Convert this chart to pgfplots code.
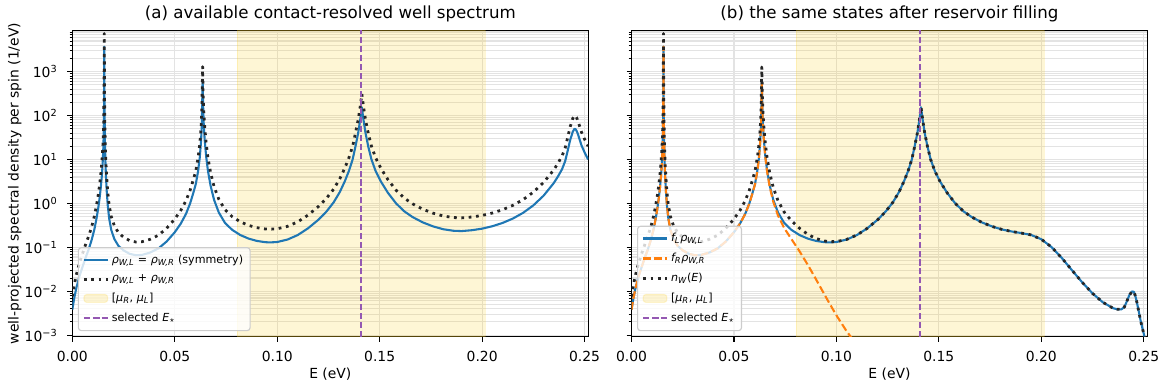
\documentclass[border=0pt]{standalone}
\usepackage{fontspec}
\setmainfont{DejaVu Sans}
\usepackage{pgfplots}
\usepackage{pgfplotstable}
\pgfplotsset{compat=1.18}

\definecolor{cblue}{HTML}{1F77B4}
\definecolor{corange}{HTML}{FF7F0E}
\definecolor{cpurple}{RGB}{148,88,178}
\definecolor{bandgold}{RGB}{250,205,30}

% well-projected spectral density rho_{W,L} (= rho_{W,R}) and the sum rho_{W,L}+rho_{W,R}
\pgfplotstableread{
E rho two
0.0000 0.0038 0.0076
0.0010 0.0072 0.0144
0.0020 0.012 0.024
0.0035 0.022 0.044
0.0050 0.036 0.072
0.0065 0.058 0.116
0.0080 0.090 0.180
0.0095 0.15 0.30
0.0108 0.26 0.52
0.0118 0.45 0.90
0.0126 0.75 1.50
0.0133 1.3 2.6
0.0139 2.3 4.6
0.0144 4.2 8.4
0.0148 8.0 16
0.0151 16 32
0.0153 35 70
0.0155 180 360
0.0156 3700 7400
0.0157 200 400
0.0159 30 60
0.0161 11 22
0.0164 4.3 8.6
0.0168 1.9 3.8
0.0173 0.90 1.80
0.0180 0.45 0.90
0.0190 0.25 0.50
0.0205 0.155 0.310
0.0225 0.108 0.216
0.0250 0.085 0.170
0.0280 0.071 0.142
0.0310 0.066 0.132
0.0340 0.067 0.134
0.0380 0.076 0.152
0.0420 0.094 0.188
0.0460 0.135 0.270
0.0500 0.22 0.44
0.0530 0.35 0.70
0.0555 0.58 1.16
0.0575 1.0 2.0
0.0590 1.7 3.4
0.0603 2.8 5.6
0.0614 5.5 11
0.0622 11 22
0.0628 25 50
0.0632 60 120
0.0634 200 400
0.0636 650 1300
0.0638 200 400
0.0641 70 140
0.0646 28 56
0.0653 12 24
0.0662 5.5 11
0.0675 2.5 5.0
0.0692 1.2 2.4
0.0715 0.62 1.24
0.0745 0.36 0.72
0.0780 0.25 0.50
0.0820 0.19 0.38
0.0860 0.158 0.316
0.0900 0.140 0.280
0.0940 0.131 0.262
0.0965 0.129 0.258
0.1000 0.132 0.264
0.1050 0.150 0.300
0.1100 0.190 0.380
0.1150 0.27 0.54
0.1200 0.42 0.84
0.1240 0.65 1.30
0.1275 1.05 2.10
0.1305 1.8 3.6
0.1330 3.2 6.4
0.1350 5.5 11
0.1368 10 20
0.1382 20 40
0.1395 40 80
0.1405 80 160
0.1413 155 310
0.1421 80 160
0.1431 40 80
0.1444 20 40
0.1460 10 20
0.1480 5.5 11
0.1505 3.2 6.4
0.1540 1.75 3.5
0.1580 1.0 2.0
0.1620 0.66 1.32
0.1660 0.49 0.98
0.1710 0.37 0.74
0.1760 0.30 0.60
0.1810 0.258 0.516
0.1860 0.238 0.476
0.1900 0.234 0.468
0.1950 0.245 0.490
0.2000 0.266 0.532
0.2050 0.302 0.604
0.2100 0.359 0.718
0.2150 0.452 0.904
0.2200 0.610 1.220
0.2250 0.902 1.804
0.2300 1.50 3.00
0.2350 2.92 5.84
0.2370 4.1 8.2
0.2390 6.0 12.0
0.2405 9.1 18.2
0.2415 14.1 28.2
0.2430 28.2 56.4
0.2437 35.5 71.0
0.2442 42.7 85.4
0.2451 50.1 100.2
0.2456 49.0 98.0
0.2460 45.7 91.4
0.2465 40.7 81.4
0.2470 34.7 69.4
0.2485 20.9 41.8
0.2500 14.5 29.0
0.2517 10.0 20.0
}\rhotab

% occupied states: f_L rho_{W,L} and the total n_W(E)
\pgfplotstableread{
E fl n
0.0000 0.0038 0.0076
0.0010 0.0072 0.0144
0.0020 0.012 0.024
0.0035 0.022 0.044
0.0050 0.036 0.072
0.0065 0.058 0.116
0.0080 0.090 0.180
0.0095 0.15 0.30
0.0108 0.26 0.52
0.0118 0.45 0.90
0.0126 0.75 1.50
0.0133 1.3 2.6
0.0139 2.3 4.6
0.0144 4.2 8.4
0.0148 8.0 16
0.0151 16 32
0.0153 35 70
0.0155 180 360
0.0156 3700 7400
0.0157 200 400
0.0159 30 60
0.0161 11 22
0.0164 4.3 8.6
0.0168 1.9 3.8
0.0173 0.90 1.80
0.0180 0.45 0.90
0.0190 0.25 0.50
0.0205 0.155 0.310
0.0225 0.108 0.216
0.0250 0.085 0.170
0.0280 0.071 0.142
0.0310 0.066 0.132
0.0340 0.067 0.134
0.0380 0.076 0.152
0.0420 0.094 0.188
0.0460 0.135 0.270
0.0500 0.22 0.44
0.0530 0.35 0.70
0.0555 0.58 1.156
0.0575 1.0 1.989
0.0590 1.7 3.375
0.0603 2.8 5.548
0.0614 5.5 10.87
0.0622 11 21.70
0.0628 25 49.25
0.0632 60 118.1
0.0634 200 393.2
0.0636 650 1277
0.0638 200 392.7
0.0641 70 137.3
0.0646 28 54.81
0.0653 12 23.42
0.0662 5.5 10.69
0.0675 2.5 4.819
0.0692 1.2 2.282
0.0715 0.62 1.149
0.0745 0.36 0.6351
0.0780 0.25 0.4050
0.0820 0.19 0.2711
0.0860 0.158 0.1981
0.0900 0.140 0.1588
0.0940 0.131 0.1397
0.0965 0.129 0.1344
0.1000 0.132 0.1348
0.1050 0.150 0.1512
0.1100 0.190 0.1906
0.1150 0.27 0.27
0.1200 0.42 0.42
0.1240 0.65 0.65
0.1275 1.05 1.05
0.1305 1.8 1.8
0.1330 3.2 3.2
0.1350 5.5 5.5
0.1368 10 10
0.1382 20 20
0.1395 40 40
0.1405 80 80
0.1413 155 155
0.1421 80 80
0.1431 40 40
0.1444 20 20
0.1460 10 10
0.1480 5.5 5.5
0.1505 3.2 3.2
0.1540 1.75 1.75
0.1580 1.0 1.0
0.1620 0.66 0.66
0.1660 0.49 0.49
0.1710 0.369 0.369
0.1760 0.298 0.298
0.1810 0.2534 0.2534
0.1860 0.2271 0.2271
0.1900 0.2118 0.2118
0.1950 0.1915 0.1915
0.2000 0.1524 0.1524
0.2050 0.1011 0.1011
0.2100 0.0570 0.0570
0.2150 0.0299 0.0299
0.2200 0.0158 0.0158
0.2250 0.00890 0.00890
0.2300 0.00560 0.00560
0.2350 0.00410 0.00410
0.2370 0.00389 0.00389
0.2390 0.00385 0.00385
0.2405 0.00435 0.00435
0.2415 0.00553 0.00553
0.2430 0.00826 0.00826
0.2437 0.00904 0.00904
0.2442 0.00986 0.00986
0.2451 0.00972 0.00972
0.2456 0.00860 0.00860
0.2460 0.00740 0.00740
0.2465 0.00598 0.00598
0.2470 0.00462 0.00462
0.2485 0.00208 0.00208
0.2500 0.00107 0.00107
0.2517 0.00053 0.00053
}\filltab

% occupied states from the right reservoir: f_R rho_{W,R}
\pgfplotstableread{
E fr
0.0000 0.0038
0.0010 0.0072
0.0020 0.012
0.0035 0.022
0.0050 0.036
0.0065 0.058
0.0080 0.090
0.0095 0.15
0.0108 0.26
0.0118 0.45
0.0126 0.75
0.0133 1.3
0.0139 2.3
0.0144 4.2
0.0148 8.0
0.0151 16
0.0153 35
0.0155 180
0.0156 3700
0.0157 200
0.0159 30
0.0161 11
0.0164 4.3
0.0168 1.9
0.0173 0.90
0.0180 0.45
0.0190 0.25
0.0205 0.155
0.0225 0.108
0.0250 0.085
0.0280 0.071
0.0310 0.066
0.0340 0.067
0.0380 0.076
0.0420 0.094
0.0460 0.135
0.0500 0.22
0.0530 0.35
0.0555 0.576
0.0575 0.989
0.0590 1.675
0.0603 2.748
0.0614 5.373
0.0622 10.70
0.0628 24.25
0.0632 58.05
0.0634 193.2
0.0636 627.2
0.0638 192.7
0.0641 67.30
0.0646 26.81
0.0653 11.42
0.0662 5.186
0.0675 2.319
0.0692 1.082
0.0715 0.5294
0.0745 0.2751
0.0780 0.1550
0.0820 0.0811
0.0860 0.0401
0.0900 0.01882
0.0940 0.00867
0.0965 0.00538
0.1000 0.00282
0.1050 0.00122
0.1075 0.00085
0.1100 0.000583
}\rtab

\newcommand{\sbi}[1]{\textsubscript{\itshape #1}}
\newcommand{\rhoi}{{\itshape ρ}}

\tikzset{
  bandstyle/.style={fill=bandgold, fill opacity=0.19, draw=bandgold, draw opacity=0.19, line width=0.8pt},
  estar/.style={cpurple, line width=1.4pt, dash pattern=on 4.4pt off 2pt},
  blueline/.style={cblue, line width=1.5pt, line join=round},
  dotline/.style={black!85, line width=2pt, dash pattern=on 2pt off 3.3pt, line join=round},
  orangeline/.style={corange, line width=1.5pt, dash pattern=on 5.5pt off 2.4pt, line join=round},
}

\begin{document}
\begin{tikzpicture}
\useasboundingbox (0,0) rectangle (841.68pt,280.8pt);

% ---- (a) contact-resolved spectrum ----
\begin{axis}[
  at={(52.06pt,38.38pt)}, anchor=south west,
  scale only axis, width=371.5pt, height=220.5pt,
  ymode=log, xmin=0, xmax=0.2518, ymin=9.2e-4, ymax=8.7e3,
  axis line style={line width=0.8pt},
  tick align=outside, tick pos=left,
  major tick length=3.5pt, minor tick length=2pt,
  tick style={black, line width=0.8pt},
  minor tick style={black, line width=0.6pt},
  xtick={0,0.05,0.1,0.15,0.2,0.25},
  xticklabels={0.00,0.05,0.10,0.15,0.20,0.25},
  ytick={1e-3,1e-2,1e-1,1,10,100,1000},
  yticklabels={10\textsuperscript{−3},10\textsuperscript{−2},10\textsuperscript{−1},10\textsuperscript{0},10\textsuperscript{1},10\textsuperscript{2},10\textsuperscript{3}},
  minor ytick={2e-3,3e-3,4e-3,5e-3,6e-3,7e-3,8e-3,9e-3,
    0.02,0.03,0.04,0.05,0.06,0.07,0.08,0.09,
    0.2,0.3,0.4,0.5,0.6,0.7,0.8,0.9,
    2,3,4,5,6,7,8,9,20,30,40,50,60,70,80,90,
    200,300,400,500,600,700,800,900,2000,3000,4000,5000,6000,7000,8000},
  xmajorgrids, ymajorgrids, yminorgrids,
  major grid style={black!11, line width=0.8pt},
  minor grid style={black!11, line width=0.8pt},
  tick label style={font=\fontsize{10}{12}\selectfont},
  xticklabel style={anchor=north, inner sep=0pt, yshift=-7pt},
  yticklabel style={anchor=east, inner sep=0pt, xshift=-7pt},
  title={(a) available contact-resolved well spectrum},
  title style={font=\fontsize{12}{14}\selectfont, at={(0.5,1)},
    anchor=south, inner sep=0pt},
  xlabel={E (eV)},
  xlabel style={font=\fontsize{10}{12}\selectfont, at={(0.5,0)},
    anchor=north, inner sep=0pt, yshift=-22pt},
  ylabel={well-projected spectral density per spin (1/eV)},
  ylabel style={font=\fontsize{10}{12}\selectfont, at={(-0.1115,0.5)},
    anchor=center, inner sep=0pt},
  legend cell align=left,
  legend style={font=\fontsize{8}{9.6}\selectfont, at={(0,0)},
    anchor=south west, xshift=4pt, yshift=4pt, draw=black!20, line width=0.8pt,
    fill=white, fill opacity=0.8, text opacity=1, draw opacity=1,
    rounded corners=2pt, row sep=2.8pt, inner xsep=3pt, inner ysep=3pt},
]
\addplot[bandstyle, forget plot]
  coordinates {(0.0805,9.2e-4) (0.2015,9.2e-4) (0.2015,8.7e3) (0.0805,8.7e3)} -- cycle;
\addplot[blueline, mark=none] table[x=E, y=rho] {\rhotab};
\addlegendentry{\rhoi\sbi{W,L} = \rhoi\sbi{W,R} (symmetry)}
\addplot[dotline, mark=none] table[x=E, y=two] {\rhotab};
\addlegendentry{\rhoi\sbi{W,L} + \rhoi\sbi{W,R}}
\addplot[estar, mark=none, forget plot] coordinates {(0.141,9.2e-4) (0.141,8.7e3)};
\addlegendimage{area legend, bandstyle}
\addlegendentry{[{\itshape μ}\sbi{R}, {\itshape μ}\sbi{L}]}
\addlegendimage{estar}
\addlegendentry{selected {\itshape E}\textsubscript{$\star$}}
\end{axis}

% ---- (b) after reservoir filling ----
\begin{axis}[
  at={(454.68pt,38.38pt)}, anchor=south west,
  scale only axis, width=371.5pt, height=220.5pt,
  ymode=log, xmin=0, xmax=0.2518, ymin=9.2e-4, ymax=8.7e3,
  axis line style={line width=0.8pt},
  tick align=outside, tick pos=left,
  major tick length=3.5pt, minor tick length=2pt,
  tick style={black, line width=0.8pt},
  minor tick style={black, line width=0.6pt},
  xtick={0,0.05,0.1,0.15,0.2,0.25},
  xticklabels={0.00,0.05,0.10,0.15,0.20,0.25},
  ytick={1e-3,1e-2,1e-1,1,10,100,1000},
  yticklabels={},
  minor ytick={2e-3,3e-3,4e-3,5e-3,6e-3,7e-3,8e-3,9e-3,
    0.02,0.03,0.04,0.05,0.06,0.07,0.08,0.09,
    0.2,0.3,0.4,0.5,0.6,0.7,0.8,0.9,
    2,3,4,5,6,7,8,9,20,30,40,50,60,70,80,90,
    200,300,400,500,600,700,800,900,2000,3000,4000,5000,6000,7000,8000},
  xmajorgrids, ymajorgrids, yminorgrids,
  major grid style={black!11, line width=0.8pt},
  minor grid style={black!11, line width=0.8pt},
  tick label style={font=\fontsize{10}{12}\selectfont},
  xticklabel style={anchor=north, inner sep=0pt, yshift=-7pt},
  title={(b) the same states after reservoir filling},
  title style={font=\fontsize{12}{14}\selectfont, at={(0.5,1)},
    anchor=south, inner sep=0pt},
  xlabel={E (eV)},
  xlabel style={font=\fontsize{10}{12}\selectfont, at={(0.5,0)},
    anchor=north, inner sep=0pt, yshift=-22pt},
  legend cell align=left,
  legend style={font=\fontsize{8}{9.6}\selectfont, at={(0,0)},
    anchor=south west, xshift=4pt, yshift=4pt, draw=black!20, line width=0.8pt,
    fill=white, fill opacity=0.8, text opacity=1, draw opacity=1,
    rounded corners=2pt, row sep=2.8pt, inner xsep=3pt, inner ysep=3pt},
]
\addplot[bandstyle, forget plot]
  coordinates {(0.0805,9.2e-4) (0.2015,9.2e-4) (0.2015,8.7e3) (0.0805,8.7e3)} -- cycle;
\addplot[blueline, mark=none] table[x=E, y=fl] {\filltab};
\addlegendentry{{\itshape f}\sbi{L}\rhoi\sbi{W,L}}
\addplot[orangeline, mark=none] table[x=E, y=fr] {\rtab};
\addlegendentry{{\itshape f}\sbi{R}\rhoi\sbi{W,R}}
\addplot[dotline, mark=none] table[x=E, y=n] {\filltab};
\addlegendentry{{\itshape n}\sbi{W}({\itshape E})}
\addplot[estar, mark=none, forget plot] coordinates {(0.141,9.2e-4) (0.141,8.7e3)};
\addlegendimage{area legend, bandstyle}
\addlegendentry{[{\itshape μ}\sbi{R}, {\itshape μ}\sbi{L}]}
\addlegendimage{estar}
\addlegendentry{selected {\itshape E}\textsubscript{$\star$}}
\end{axis}
\end{tikzpicture}
\end{document}
